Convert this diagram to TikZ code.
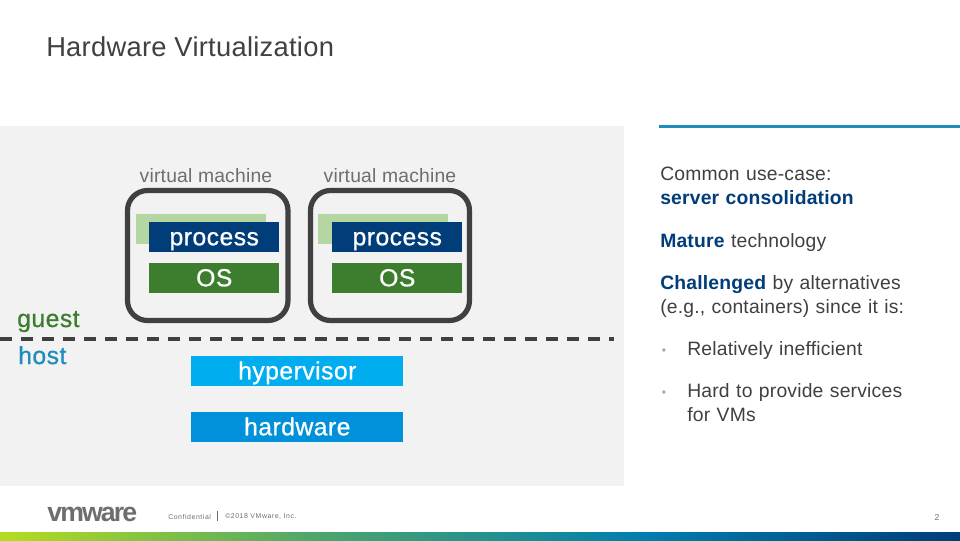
\documentclass[tikz,border=0pt]{standalone}
\usepackage{fontspec}
\setmainfont{Liberation Sans}
\newfontfamily\sidefont[LetterSpace=1]{Liberation Sans}
\newfontfamily\boxfont[LetterSpace=2,FakeBold=0.8]{Liberation Sans}
\newfontfamily\titlefont[LetterSpace=1]{Liberation Sans}
\newfontfamily\logofont[LetterSpace=-7]{Liberation Sans}
\newfontfamily\footfont[LetterSpace=8]{Liberation Sans}
\usetikzlibrary{arrows.meta, calc, positioning}
\definecolor{panelbg}{HTML}{F2F2F2}
\definecolor{vmframe}{HTML}{404040}
\definecolor{lightgreen}{HTML}{B3D6A3}
\definecolor{procblue}{HTML}{003D79}
\definecolor{osgreen}{HTML}{3C7D2E}
\definecolor{hypblue}{HTML}{00AEEF}
\definecolor{hwblue}{HTML}{0091DA}
\definecolor{ruleblue}{HTML}{1D8DBB}
\definecolor{txtgrey}{HTML}{404040}
\definecolor{lblgrey}{HTML}{6D6E71}
\definecolor{logogrey}{HTML}{6D6E71}
\definecolor{bulgrey}{HTML}{A6A6A6}
\definecolor{barstart}{HTML}{B5DC1E}
\definecolor{barmida}{HTML}{4CA56C}
\definecolor{barmidb}{HTML}{007FAE}
\definecolor{barend}{HTML}{003D79}
\tikzset{
  % etichette
  lbl/.style={font=\sidefont\fontsize{14.5pt}{18pt}\selectfont, text=txtgrey, inner sep=0pt},
  vmlbl/.style={lbl, text=lblgrey},
  sidetxt/.style={lbl, anchor=north west, align=left, text width=190pt},
  guesthost/.style={lbl, anchor=base west, font=\boxfont\fontsize{18.5pt}{18pt}\selectfont},
  footlbl/.style={lbl, anchor=west, text=lblgrey, font=\footfont\fontsize{5.2pt}{6pt}\selectfont},
  bulletlbl/.style={lbl, text=bulgrey, font=\fontsize{9pt}{9pt}\selectfont},
  % strati
  layerbox/.style={minimum height=22.5pt, inner sep=0pt, text=white, text height=15pt, text depth=3pt,
    font=\boxfont\fontsize{18.5pt}{18pt}\selectfont, anchor=north west},
  procbox/.style={layerbox, minimum width=97.5pt, fill=procblue},
  shadowbox/.style={layerbox, minimum width=97.5pt, fill=lightgreen},
  osbox/.style={layerbox, minimum width=97.5pt, fill=osgreen},
  hostbox/.style={layerbox, minimum width=159pt},
  vmbox/.style={draw=vmframe, line width=3.9pt, rounded corners=15pt},
  barpart/.style={draw=none},
}
\newcommand{\hl}[1]{\textbf{\textcolor{procblue}{#1}}}
\begin{document}
\begin{tikzpicture}[x=0.75pt, y=-0.75pt]
  \useasboundingbox (0,0) rectangle (960,540);
  \fill[white] (0,0) rectangle (960,540);
  \fill[panelbg] (0,126) rectangle (624,486);
  \fill[ruleblue] (659,125) rectangle (960,128);
  \node[lbl, anchor=west, font=\titlefont\fontsize{20.5pt}{24pt}\selectfont] (title) at (46,47) {Hardware Virtualization};
  % macchine virtuali
  \foreach \n/\xb/\xc in {a/136/149, b/318/332} {
    \node[shadowbox] (shadow\n) at (\xb,214) {};
    \node[procbox] (proc\n) at (\xc,222) {process};
    \node[osbox] (os\n) at (\xc,263) {OS};
  }
  \draw[vmbox] (127.5,190.5) rectangle (288,320.5);
  \draw[vmbox] (310.5,190.5) rectangle (469.5,320.5);
  \node[vmlbl] (vma) at (206,176) {virtual machine};
  \node[vmlbl] (vmb) at (390,176) {virtual machine};
  \node[guesthost, text=osgreen] (guest) at (17,327) {guest};
  \node[guesthost, text=ruleblue] (host) at (18,364) {host};
  \coordinate (dashl) at (0,339);
  \coordinate (dashr) at (614,339);
  \draw[vmframe, line width=3pt, dash pattern=on 9pt off 6.75pt] (dashl) -- (dashr);
  \node[hostbox, fill=hypblue] (hyp) at (191,356) {hypervisor};
  \node[hostbox, fill=hwblue] (hw) at (191,412) {hardware};
  % testo a destra
  \node[sidetxt] (use) at (660,167) {Common use-case:\\\hl{server consolidation}};
  \node[sidetxt] (mature) at (660,233) {\hl{Mature} technology};
  \node[sidetxt] (chall) at (660,275) {\hl{Challenged} by alternatives\\(e.g., containers) since it is:};
  \node[bulletlbl] (b1) at (664,352) {•};
  \node[bulletlbl] (b2) at (664,394) {•};
  \node[sidetxt] (rel) at (687,341) {Relatively inefficient};
  \node[sidetxt] (hard) at (687,383) {Hard to provide services\\for VMs};
  % piede
  \node[lbl, anchor=base west, text=logogrey, font=\logofont\fontsize{20pt}{22pt}\selectfont\bfseries] (logo) at (47,521) {vmware};
  \node[footlbl] (conf) at (168,517) {Confidential};
  \draw[lblgrey, line width=0.5pt] (217.5,511) -- (217.5,521);
  \node[footlbl] (copy) at (225,517) {©2018 VMware, Inc.};
  \node[lbl, text=lblgrey, font=\fontsize{6.5pt}{6pt}\selectfont] (page) at (937,517) {2};
  \shade[barpart, left color=barstart, right color=barmida] (0,532) rectangle (320,540);
  \shade[barpart, left color=barmida, right color=barmidb] (320,532) rectangle (640,540);
  \shade[barpart, left color=barmidb, right color=barend] (640,532) rectangle (960,540);
\end{tikzpicture}
\end{document}
